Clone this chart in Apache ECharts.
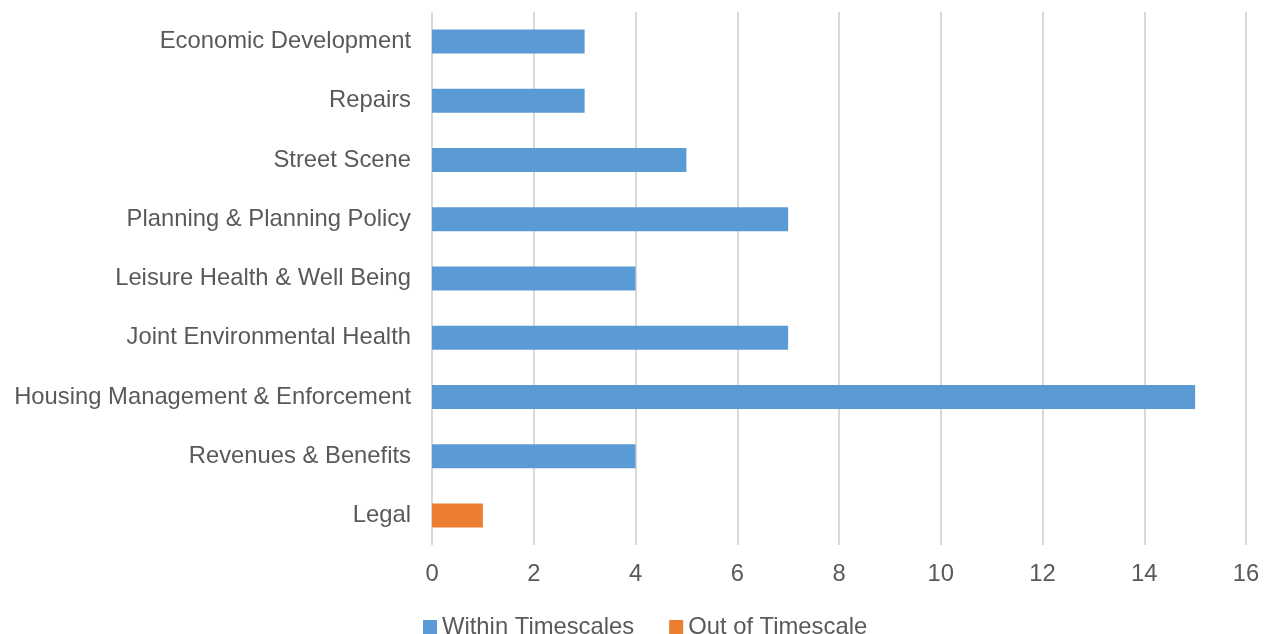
<!DOCTYPE html>
<html>
<head>
<meta charset="utf-8">
<script src="https://cdn.jsdelivr.net/npm/echarts@6/dist/echarts.min.js"></script>
<style>html,body{margin:0;padding:0;background:#fff}#c{width:1264px;height:634px}</style>
</head>
<body>
<div id="c"></div>
<script>
const categories = ["Economic Development","Repairs","Street Scene","Planning & Planning Policy","Leisure Health & Well Being","Joint Environmental Health","Housing Management & Enforcement","Revenues & Benefits","Legal"];
const withinTimescales = [3,3,5,7,4,7,15,4,0];
const outOfTimescale = [0,0,0,0,0,0,0,0,1];
const seriesNames = ["Within Timescales","Out of Timescale"];

const chart = echarts.init(document.getElementById('c'));
const txt = {color:'#595959', fontFamily:'Liberation Sans, Arial, sans-serif', fontSize:23.8};
chart.setOption({
  animation:false,
  grid:{left:432, right:18, top:12, bottom:89, containLabel:false},
  legend:{
    top:610, left:418, itemWidth:14, itemHeight:14, itemGap:35, itemStyle:{borderWidth:0},
    icon:'rect', textStyle:Object.assign({}, txt),
    data:seriesNames
  },
  xAxis:{
    type:'value', min:0, max:16, interval:2,
    axisLine:{show:false}, axisTick:{show:false},
    axisLabel:Object.assign({margin:17}, txt),
    splitLine:{lineStyle:{color:'#d9d9d9', width:2}}
  },
  yAxis:{
    type:'category', data:categories, inverse:true,
    axisLine:{show:false}, axisTick:{show:false},
    axisLabel:Object.assign({margin:21}, txt)
  },
  series:[
    {name:seriesNames[0], type:'bar', stack:'s', data:withinTimescales, barWidth:24, itemStyle:{color:'#5b9bd5'}},
    {name:seriesNames[1], type:'bar', stack:'s', data:outOfTimescale, barWidth:24, itemStyle:{color:'#ed7d31'}}
  ]
});
</script>
</body>
</html>
